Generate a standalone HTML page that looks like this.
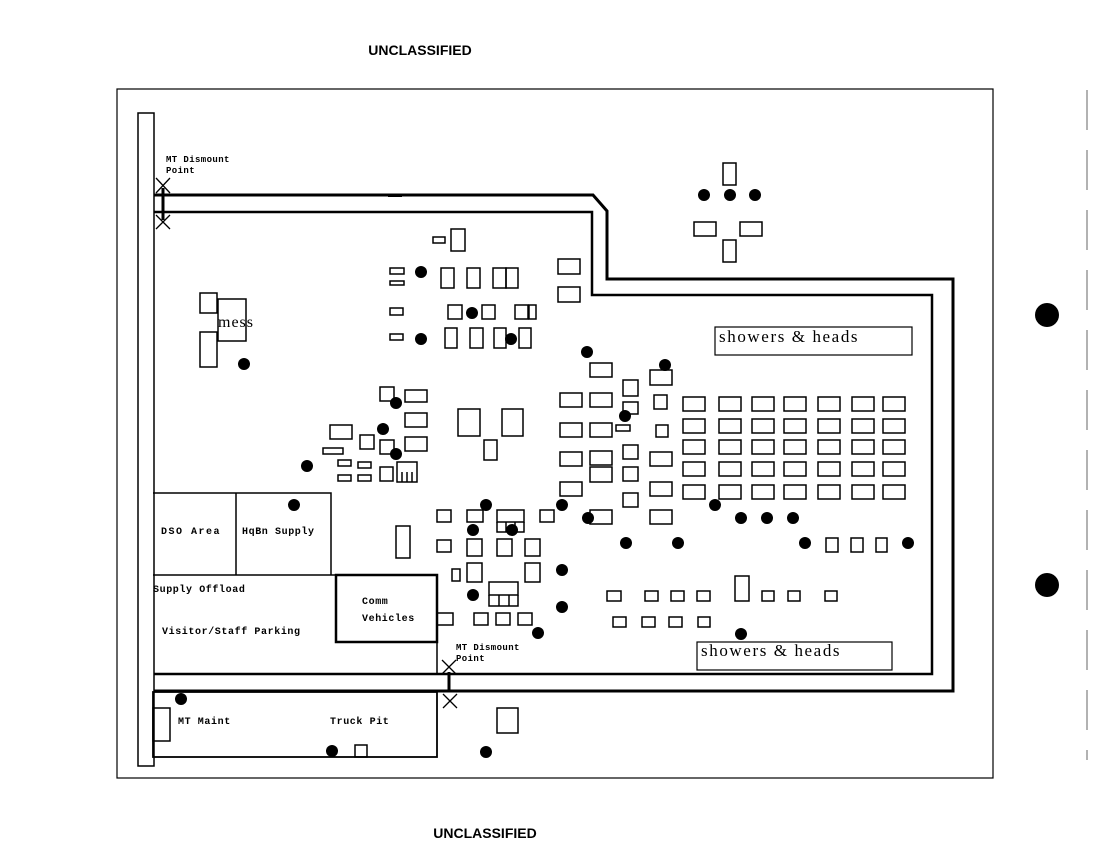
<!DOCTYPE html>
<html><head><meta charset="utf-8"><style>
html,body{margin:0;padding:0;background:#fff;}
svg{display:block;}
text{font-family:"Liberation Serif",serif;fill:#000;}
.s{font-family:"Liberation Mono",monospace;font-weight:bold;font-size:10px;letter-spacing:0.6px;}
.t{font-family:"Liberation Mono",monospace;font-weight:bold;font-size:9px;letter-spacing:0.4px;}
</style></head><body>
<svg width="1097" height="850" viewBox="0 0 1097 850" xmlns="http://www.w3.org/2000/svg">
<text x="420" y="55" text-anchor="middle" style="font-family:'Liberation Sans',sans-serif;font-weight:bold;font-size:14px">UNCLASSIFIED</text>
<text x="485" y="838" text-anchor="middle" style="font-family:'Liberation Sans',sans-serif;font-weight:bold;font-size:14px">UNCLASSIFIED</text>
<g fill="none" stroke="#000">
<rect x="117" y="89" width="876" height="689" stroke-width="1.2"/>
<path d="M1087 90 V760" stroke-width="1" stroke="#666" stroke-dasharray="40 20"/>
<path d="M138 766 V113 H154 V766 Z" stroke-width="1.5"/>
<path d="M154 195 H593 L607 211 V279 H953 V691 H154" stroke-width="3"/>
<path d="M154 212 H592 V295 H932 V674 H154" stroke-width="2.5"/>
<path d="M153 493 H331 V575 M236 493 V575 M153 575 H336 M437 575 V674" stroke-width="1.5"/>
<rect x="336" y="575" width="101" height="67" stroke-width="2.5"/>
<rect x="153" y="692" width="284" height="65" stroke-width="1.8"/>
<rect x="153" y="708" width="17" height="33" stroke-width="1.5"/>
<rect x="355" y="745" width="12" height="12" stroke-width="1.5"/>
<rect x="497" y="708" width="21" height="25" stroke-width="1.5"/>
<rect x="715" y="327" width="197" height="28" stroke-width="1.2"/>
<rect x="697" y="642" width="195" height="28" stroke-width="1.2"/>
<path d="M156 178 L170 193 M170 178 L156 193 M156 215 L170 229 M170 215 L156 229" stroke-width="1.3"/>
<path d="M163 188 V220" stroke-width="3"/>
<path d="M442 660 L456 674 M456 660 L442 674 M443 694 L457 708 M457 694 L443 708" stroke-width="1.3"/>
<path d="M449 672 V692" stroke-width="3"/>
<g stroke-width="1.5">
<rect x="723" y="163" width="13" height="22"/><rect x="694" y="222" width="22" height="14"/><rect x="740" y="222" width="22" height="14"/><rect x="723" y="240" width="13" height="22"/>
<rect x="433" y="237" width="12" height="6"/><rect x="451" y="229" width="14" height="22"/>
<rect x="390" y="268" width="14" height="6"/><rect x="390" y="281" width="14" height="4"/>
<rect x="441" y="268" width="13" height="20"/><rect x="467" y="268" width="13" height="20"/><rect x="493" y="268" width="13" height="20"/><rect x="506" y="268" width="12" height="20"/>
<rect x="558" y="259" width="22" height="15"/><rect x="558" y="287" width="22" height="15"/>
<rect x="390" y="308" width="13" height="7"/><rect x="448" y="305" width="14" height="14"/><rect x="482" y="305" width="13" height="14"/><rect x="515" y="305" width="13" height="14"/><rect x="529" y="305" width="7" height="14"/>
<rect x="390" y="334" width="13" height="6"/><rect x="445" y="328" width="12" height="20"/><rect x="470" y="328" width="13" height="20"/><rect x="494" y="328" width="12" height="20"/><rect x="519" y="328" width="12" height="20"/>
<rect x="200" y="293" width="17" height="20"/><rect x="218" y="299" width="28" height="42"/><rect x="200" y="332" width="17" height="35"/>
<rect x="380" y="387" width="14" height="14"/><rect x="405" y="390" width="22" height="12"/><rect x="405" y="413" width="22" height="14"/><rect x="330" y="425" width="22" height="14"/><rect x="360" y="435" width="14" height="14"/><rect x="380" y="440" width="14" height="14"/><rect x="405" y="437" width="22" height="14"/><rect x="323" y="448" width="20" height="6"/><rect x="338" y="460" width="13" height="6"/><rect x="358" y="462" width="13" height="6"/><rect x="380" y="467" width="13" height="14"/><rect x="397" y="462" width="20" height="20"/><path d="M402 472 V482 M407 472 V482 M412 472 V482"/><rect x="338" y="475" width="13" height="6"/><rect x="358" y="475" width="13" height="6"/>
<rect x="458" y="409" width="22" height="27"/><rect x="502" y="409" width="21" height="27"/><rect x="484" y="440" width="13" height="20"/>
<rect x="437" y="510" width="14" height="12"/><rect x="467" y="510" width="16" height="12"/><rect x="497" y="510" width="27" height="12"/><path d="M497 522 V532 H524 V522 M506 522 V532 M515 522 V532"/><rect x="540" y="510" width="14" height="12"/><rect x="396" y="526" width="14" height="32"/>
<rect x="437" y="540" width="14" height="12"/><rect x="467" y="539" width="15" height="17"/><rect x="497" y="539" width="15" height="17"/><rect x="525" y="539" width="15" height="17"/>
<rect x="452" y="569" width="8" height="12"/><rect x="467" y="563" width="15" height="19"/><rect x="525" y="563" width="15" height="19"/>
<rect x="489" y="582" width="29" height="13"/><path d="M489 595 V606 H518 V595 M499 595 V606 M509 595 V606"/>
<rect x="437" y="613" width="16" height="12"/><rect x="474" y="613" width="14" height="12"/><rect x="496" y="613" width="14" height="12"/><rect x="518" y="613" width="14" height="12"/>
<rect x="560" y="393" width="22" height="14"/><rect x="560" y="423" width="22" height="14"/><rect x="560" y="452" width="22" height="14"/><rect x="560" y="482" width="22" height="14"/>
<rect x="590" y="363" width="22" height="14"/><rect x="590" y="393" width="22" height="14"/><rect x="590" y="423" width="22" height="14"/><rect x="590" y="451" width="22" height="14"/><rect x="590" y="467" width="22" height="15"/><rect x="590" y="510" width="22" height="14"/>
<rect x="623" y="380" width="15" height="16"/><rect x="623" y="402" width="15" height="12"/><rect x="616" y="425" width="14" height="6"/><rect x="623" y="445" width="15" height="14"/><rect x="623" y="467" width="15" height="14"/><rect x="623" y="493" width="15" height="14"/>
<rect x="650" y="370" width="22" height="15"/><rect x="654" y="395" width="13" height="14"/><rect x="656" y="425" width="12" height="12"/><rect x="650" y="452" width="22" height="14"/><rect x="650" y="482" width="22" height="14"/><rect x="650" y="510" width="22" height="14"/>
</g>
<g stroke-width="1.5">
<rect x="683" y="397" width="22" height="14"/><rect x="719" y="397" width="22" height="14"/><rect x="752" y="397" width="22" height="14"/><rect x="784" y="397" width="22" height="14"/><rect x="818" y="397" width="22" height="14"/><rect x="852" y="397" width="22" height="14"/><rect x="883" y="397" width="22" height="14"/>
<rect x="683" y="419" width="22" height="14"/><rect x="719" y="419" width="22" height="14"/><rect x="752" y="419" width="22" height="14"/><rect x="784" y="419" width="22" height="14"/><rect x="818" y="419" width="22" height="14"/><rect x="852" y="419" width="22" height="14"/><rect x="883" y="419" width="22" height="14"/>
<rect x="683" y="440" width="22" height="14"/><rect x="719" y="440" width="22" height="14"/><rect x="752" y="440" width="22" height="14"/><rect x="784" y="440" width="22" height="14"/><rect x="818" y="440" width="22" height="14"/><rect x="852" y="440" width="22" height="14"/><rect x="883" y="440" width="22" height="14"/>
<rect x="683" y="462" width="22" height="14"/><rect x="719" y="462" width="22" height="14"/><rect x="752" y="462" width="22" height="14"/><rect x="784" y="462" width="22" height="14"/><rect x="818" y="462" width="22" height="14"/><rect x="852" y="462" width="22" height="14"/><rect x="883" y="462" width="22" height="14"/>
<rect x="683" y="485" width="22" height="14"/><rect x="719" y="485" width="22" height="14"/><rect x="752" y="485" width="22" height="14"/><rect x="784" y="485" width="22" height="14"/><rect x="818" y="485" width="22" height="14"/><rect x="852" y="485" width="22" height="14"/><rect x="883" y="485" width="22" height="14"/>
<rect x="826" y="538" width="12" height="14"/><rect x="851" y="538" width="12" height="14"/><rect x="876" y="538" width="11" height="14"/>
<rect x="607" y="591" width="14" height="10"/><rect x="645" y="591" width="13" height="10"/><rect x="671" y="591" width="13" height="10"/><rect x="697" y="591" width="13" height="10"/><rect x="735" y="576" width="14" height="25"/><rect x="762" y="591" width="12" height="10"/><rect x="788" y="591" width="12" height="10"/><rect x="825" y="591" width="12" height="10"/>
<rect x="613" y="617" width="13" height="10"/><rect x="642" y="617" width="13" height="10"/><rect x="669" y="617" width="13" height="10"/><rect x="698" y="617" width="12" height="10"/>
</g>
</g>
<g fill="#000">
<circle cx="704" cy="195" r="6"/><circle cx="730" cy="195" r="6"/><circle cx="755" cy="195" r="6"/>
<circle cx="421" cy="272" r="6"/><circle cx="472" cy="313" r="6"/><circle cx="421" cy="339" r="6"/><circle cx="511" cy="339" r="6"/><circle cx="244" cy="364" r="6"/>
<circle cx="587" cy="352" r="6"/><circle cx="665" cy="365" r="6"/><circle cx="396" cy="403" r="6"/><circle cx="625" cy="416" r="6"/><circle cx="383" cy="429" r="6"/><circle cx="396" cy="454" r="6"/><circle cx="307" cy="466" r="6"/>
<circle cx="294" cy="505" r="6"/><circle cx="486" cy="505" r="6"/><circle cx="562" cy="505" r="6"/><circle cx="588" cy="518" r="6"/><circle cx="473" cy="530" r="6"/><circle cx="512" cy="530" r="6"/>
<circle cx="715" cy="505" r="6"/><circle cx="741" cy="518" r="6"/><circle cx="767" cy="518" r="6"/><circle cx="793" cy="518" r="6"/>
<circle cx="626" cy="543" r="6"/><circle cx="678" cy="543" r="6"/><circle cx="805" cy="543" r="6"/><circle cx="908" cy="543" r="6"/>
<circle cx="562" cy="570" r="6"/><circle cx="473" cy="595" r="6"/><circle cx="562" cy="607" r="6"/><circle cx="538" cy="633" r="6"/><circle cx="741" cy="634" r="6"/>
<circle cx="181" cy="699" r="6"/><circle cx="332" cy="751" r="6"/><circle cx="486" cy="752" r="6"/>
<circle cx="1047" cy="315" r="12"/><circle cx="1047" cy="585" r="12"/>
<rect x="388" y="194" width="14" height="3"/>
</g>
<text class="t" x="166" y="162">MT Dismount</text><text class="t" x="166" y="173">Point</text>
<text class="t" x="456" y="650">MT Dismount</text><text class="t" x="456" y="661">Point</text>
<text x="218" y="327" style="font-size:16px;letter-spacing:1px">mess</text>
<text x="719" y="342" style="font-size:17px;letter-spacing:1.6px">showers &amp; heads</text>
<text x="701" y="656" style="font-size:17px;letter-spacing:1.6px">showers &amp; heads</text>
<text class="s" x="161" y="534" style="letter-spacing:1.5px">DSO Area</text>
<text class="s" x="242" y="534">HqBn Supply</text>
<text class="s" x="153" y="592">Supply Offload</text>
<text class="s" x="162" y="634">Visitor/Staff Parking</text>
<text class="s" x="362" y="604">Comm</text>
<text class="s" x="362" y="621">Vehicles</text>
<text class="s" x="178" y="724">MT Maint</text>
<text class="s" x="330" y="724">Truck Pit</text>
</svg>
</body></html>
